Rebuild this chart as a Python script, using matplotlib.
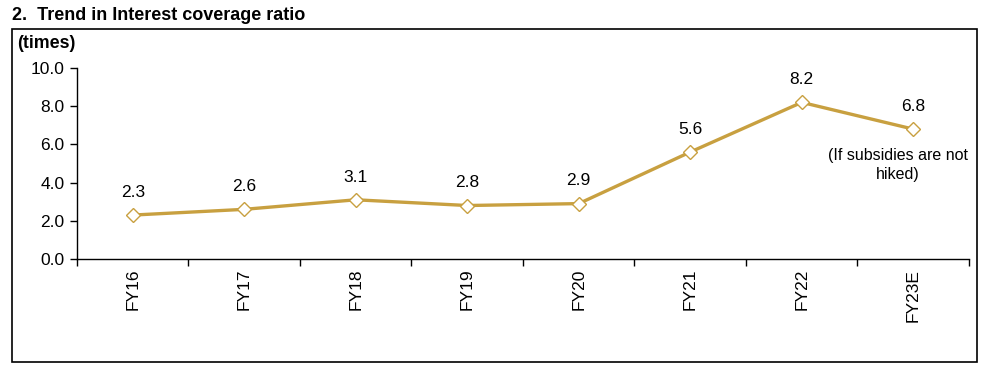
import matplotlib
matplotlib.use("Agg")
import matplotlib.pyplot as plt
from matplotlib.patches import Rectangle
import numpy as np

categories = ["FY16", "FY17", "FY18", "FY19", "FY20", "FY21", "FY22", "FY23E"]
values = [2.3, 2.6, 3.1, 2.8, 2.9, 5.6, 8.2, 6.8]
yticks = [0.0, 2.0, 4.0, 6.0, 8.0, 10.0]

plt.rcParams['font.family'] = ['Arial', 'Liberation Sans', 'DejaVu Sans']

W, H = 987, 373
fig = plt.figure(figsize=(W / 100, H / 100), dpi=100)
ax = fig.add_axes([77 / W, 1 - 259 / H, (969 - 77) / W, (259 - 68) / H])

color = "#C8A040"
x = np.arange(len(categories))
ax.plot(x, values, color=color, lw=2.4, marker="D", markersize=7,
        markerfacecolor="white", markeredgecolor=color, markeredgewidth=1.0, zorder=3)

for xi, v in zip(x, values):
    ax.annotate(f"{v:.1f}", (xi, v), xytext=(0, 11), textcoords="offset points",
                ha="center", va="bottom", fontsize=12.5)

ax.text(x[-1] - 0.14, values[-1] - 0.97, "(If subsidies are not\nhiked)", ha="center", va="top",
        fontsize=11.5, linespacing=1.4)

ax.set_xlim(-0.5, len(categories) - 0.5)
ax.set_ylim(0, 10)
ax.set_yticks(yticks)
ax.set_yticklabels([f"{t:.1f}" for t in yticks], fontsize=12.5)
ax.set_xticks(x)
ax.set_xticklabels(categories, rotation=90, fontsize=12.5)
ax.set_xticks(np.arange(-0.5, len(categories)), minor=True)
ax.tick_params(axis="x", which="major", length=0, pad=7)
ax.tick_params(axis="x", which="minor", length=5, direction="out", width=1)
ax.tick_params(axis="y", length=5, direction="out", width=1, pad=4)
for s in ["top", "right"]:
    ax.spines[s].set_visible(False)
for s in ["left", "bottom"]:
    ax.spines[s].set_linewidth(1)

fig.patches.append(Rectangle((12 / W, 1 - 362 / H), (977 - 12) / W, (362 - 29) / H,
                             transform=fig.transFigure, fill=False, edgecolor="black", lw=1.2))
fig.text(12 / W, 1 - 15 / H, "2.  Trend in Interest coverage ratio", fontsize=13,
         fontweight="bold", va="center", ha="left")
fig.text(17 / W, 1 - 43 / H, "(times)", fontsize=12.8, fontweight="bold", va="center", ha="left")

fig.savefig("out.png", dpi=100)
